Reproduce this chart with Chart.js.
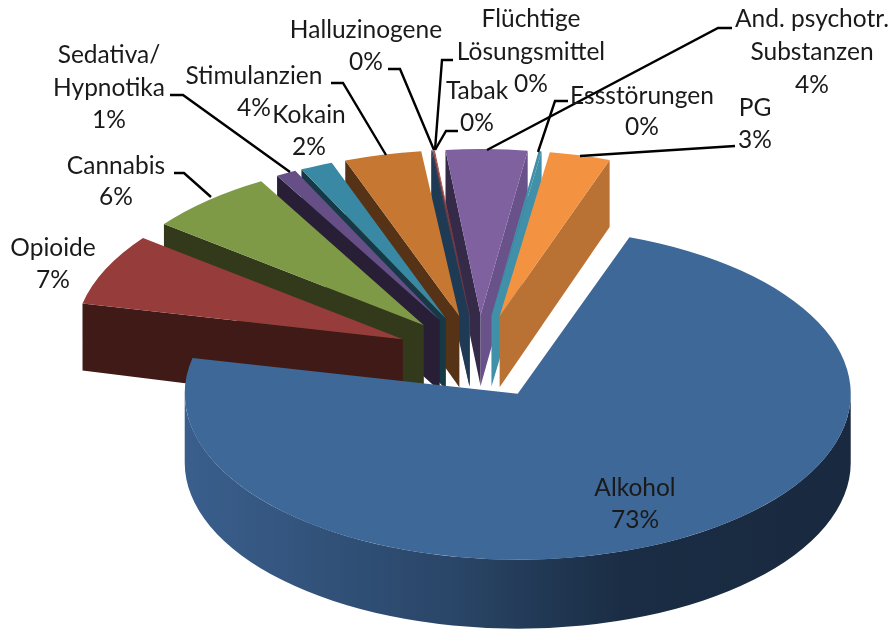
<!DOCTYPE html>
<html>
<head>
<meta charset="utf-8">
<script src="https://cdn.jsdelivr.net/npm/chart.js@4"></script>
<style>
  html, body { margin: 0; padding: 0; background: #fff; }
  canvas { display: block; }
</style>
</head>
<body>
<canvas id="pie" width="893" height="630"></canvas>
<script>
// Slices, in the clockwise order of the pie
const categories = ["Alkohol", "Opioide", "Cannabis", "Sedativa/\nHypnotika", "Kokain", "Stimulanzien",
    "Halluzinogene", "Flüchtige\nLösungsmittel", "Tabak", "And. psychotr.\nSubstanzen", "Essstörungen", "PG"];
const sliceValues = [73.0, 7.0, 6.3, 1.0, 1.6, 3.8, 0.05, 0.05, 0.05, 4.0, 0.15, 3.0];
const percentLabels = ["73%", "7%", "6%", "1%", "2%", "4%", "0%", "0%", "0%", "4%", "0%", "3%"];

// Colours of the top face and of the two cut faces of each slice
const topColors = ["#3e6898", "#963d3b", "#7e9a46", "#664e86", "#3989a4", "#c67832",
    "#1f3a55", "#a04541", "#a04541", "#7f61a0", "#3f90a8", "#f39240"];
const startWalls = ["#1a2d44", "#401a17", "#323a1b", "#281f36", "#163a45", "#563316",
    "#1f3a55", "#a04541", "#352a47", "#352a47", "#3f90a8", "#563316"];
const endWalls = ["#1a2d44", "#401a17", "#323a1b", "#281f36", "#163a45", "#563316",
    "#1f3a55", "#a04541", "#352a47", "#69528a", "#3f90a8", "#b97233"];

// Back slices first, Alkohol in front of everything
const drawOrder = [9, 10, 11, 8, 7, 6, 5, 4, 3, 2, 1, 0];

// The tilted pie: where its centre lands and how it is squashed
const pieCenter = { x: 477, y: 355 };
const explode = 84;
const explodeFlat = 0.5;
const frontShape = { rx: 333, ry: 166, rimDepth: 69, apexDepth: 69, shiftX: 0, shiftY: 2 };
const backShape = { rx: 328, ry: 166, rimDepth: 67, apexDepth: 71, shiftX: 2, shiftY: 2 };

// Label text: centre x and the y of every line
const labelPos = [
    [635, [488, 520]], [53, [248, 280]], [116, [166, 197]], [109, [55, 88, 120]],
    [309, [115, 147]], [254, [76, 108]], [366, [30, 62]], [531, [19, 52, 84]],
    [477, [91, 123]], [812, [19, 52, 85]], [642, [96, 127]], [755, [108, 140]]
];

// Leader lines from the labels to the slices
const leaderLines = [
    [[170, 95], [183, 95], [290, 172]],
    [[174, 173], [184, 173], [211, 197]],
    [[331, 83], [343, 83], [386, 155]],
    [[388, 69], [400, 69], [434, 150]],
    [[453, 60], [442, 60], [435, 150]],
    [[458, 131], [446, 131], [435, 150]],
    [[732, 28], [718, 28], [487, 150]],
    [[568, 101], [555, 101], [538, 152]],
    [[735, 146], [580, 156]]
];

function alkoholWallFill(ctx) {
    const g = ctx.createLinearGradient(183, 0, 849, 0);
    g.addColorStop(0, "#3a5f8d");
    g.addColorStop(0.4, "#2a4668");
    g.addColorStop(0.66, "#1a2d44");
    g.addColorStop(1, "#19293f");
    return g;
}

function drawCutWall(ctx, ax, ay, angle, color, shape) {
    const rimX = ax + shape.rx * Math.cos(angle);
    const rimY = ay + shape.ry * Math.sin(angle);
    ctx.fillStyle = color;
    ctx.beginPath();
    ctx.moveTo(ax, ay);
    ctx.lineTo(rimX, rimY);
    ctx.lineTo(rimX, rimY + shape.rimDepth);
    ctx.lineTo(ax, ay + shape.apexDepth);
    ctx.closePath();
    ctx.fill();
}

function drawRimWall(ctx, ax, ay, start, end, fill, shape) {
    // only the part of the rim that faces the viewer, angles 0..PI
    for (let turn = -2; turn <= 2; turn++) {
        const from = Math.max(start, turn * 2 * Math.PI);
        const to = Math.min(end, turn * 2 * Math.PI + Math.PI);
        if (to <= from) continue;
        ctx.fillStyle = fill;
        ctx.beginPath();
        ctx.ellipse(ax, ay, shape.rx, shape.ry, 0, from, to);
        ctx.ellipse(ax, ay + shape.rimDepth, shape.rx, shape.ry, 0, to, from, true);
        ctx.closePath();
        ctx.fill();
    }
}

const tiltedPie = {
    id: "tiltedPie",
    beforeDatasetDraw(chart) {
        const ctx = chart.ctx;
        const arcs = chart.getDatasetMeta(0).data;
        drawOrder.forEach(i => {
            const arc = arcs[i];
            const shape = i === 0 ? frontShape : backShape;
            const mid = (arc.startAngle + arc.endAngle) / 2;
            const ax = pieCenter.x + explode * Math.cos(mid) + shape.shiftX;
            const ay = pieCenter.y + explode * explodeFlat * Math.sin(mid) + shape.shiftY;

            if (Math.cos(arc.startAngle) < 0) drawCutWall(ctx, ax, ay, arc.startAngle, startWalls[i], shape);
            if (Math.cos(arc.endAngle) > 0) drawCutWall(ctx, ax, ay, arc.endAngle, endWalls[i], shape);
            drawRimWall(ctx, ax, ay, arc.startAngle, arc.endAngle, i === 0 ? alkoholWallFill(ctx) : endWalls[i], shape);

            // top face: the library's own arc, squashed
            ctx.save();
            ctx.translate(ax, ay);
            ctx.scale(shape.rx / arc.outerRadius, shape.ry / arc.outerRadius);
            ctx.translate(-arc.x, -arc.y);
            arc.draw(ctx);
            ctx.restore();
        });
        return false;
    },
    afterDraw(chart) {
        const ctx = chart.ctx;
        ctx.save();
        ctx.strokeStyle = "#000";
        ctx.lineWidth = 2.4;
        leaderLines.forEach(line => {
            ctx.beginPath();
            line.forEach((p, k) => k ? ctx.lineTo(p[0], p[1]) : ctx.moveTo(p[0], p[1]));
            ctx.stroke();
        });
        ctx.fillStyle = "#1a1a1a";
        ctx.font = "24.5px Lato";
        ctx.textAlign = "center";
        ctx.textBaseline = "middle";
        categories.forEach((name, i) => {
            const lines = name.split("\n").concat(percentLabels[i]);
            lines.forEach((text, k) => ctx.fillText(text, labelPos[i][0], labelPos[i][1][k]));
        });
        ctx.restore();
    }
};

new Chart(document.getElementById("pie"), {
    type: "pie",
    data: {
        labels: categories,
        datasets: [{
            data: sliceValues,
            backgroundColor: topColors,
            borderWidth: 0
        }]
    },
    options: {
        responsive: false,
        animation: false,
        rotation: 19.6,
        plugins: { legend: { display: false }, tooltip: { enabled: false } }
    },
    plugins: [tiltedPie]
});
</script>
</body>
</html>
